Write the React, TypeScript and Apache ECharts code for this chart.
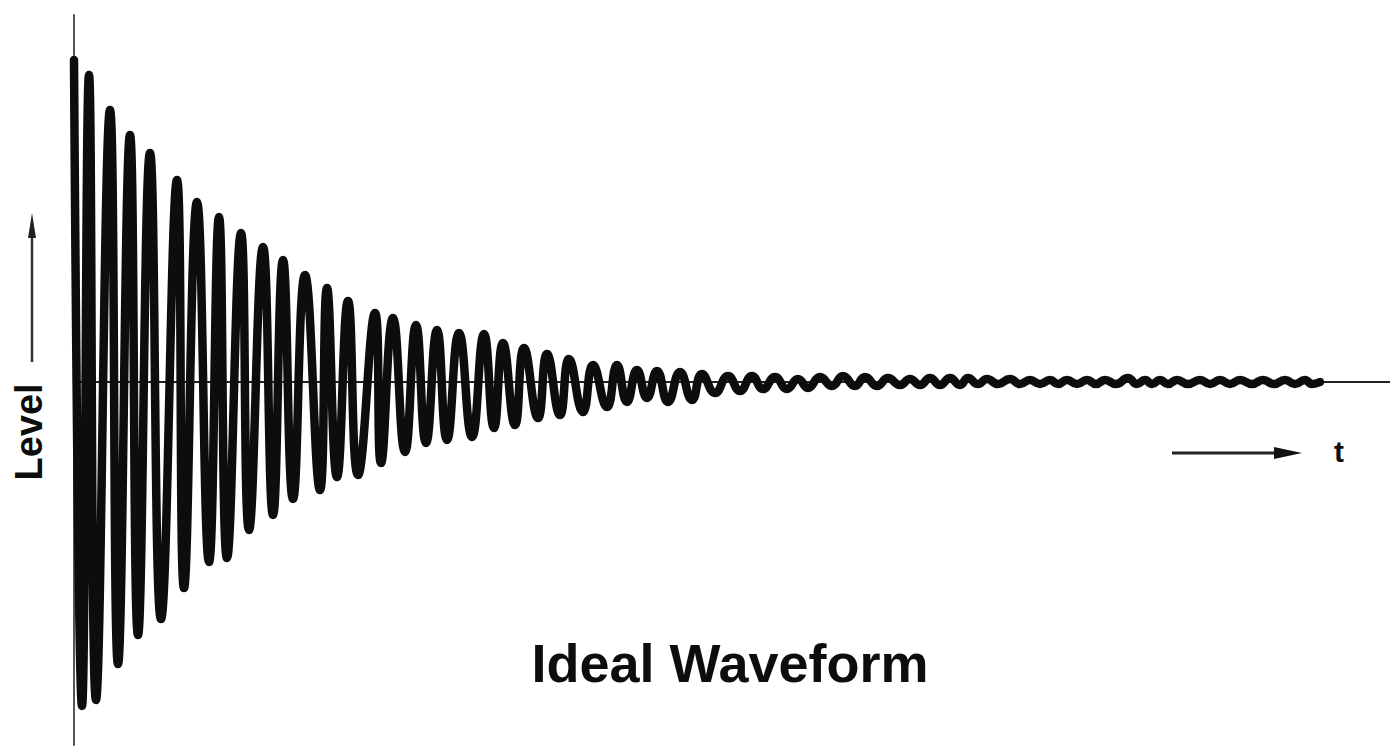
import React, { useEffect, useRef } from "react";
import * as echarts from "echarts";

// Time (sample index) of each turning point of the waveform
const timeSamples: number[] = [
  0, 8, 15, 22, 36, 44, 56, 64, 76, 87, 103, 110, 123, 135, 145, 153, 167, 175,
  189, 199, 209, 219, 231, 246, 253, 263, 274, 284, 301, 307, 319, 331, 342, 352,
  363, 373, 385, 398, 410, 420, 429, 441, 450, 464, 473, 486, 495, 509, 519, 533,
  543, 553, 563, 573, 583, 594, 606, 618, 628, 641, 654, 666, 678, 689, 701, 713,
  724, 734, 746, 758, 769, 781, 791, 803, 814, 826, 836, 846, 856, 866, 876, 886,
  894, 904, 913, 924, 936, 946, 956, 966, 976, 984, 993, 1003, 1013, 1022, 1031,
  1042, 1054, 1063, 1071, 1078, 1086, 1094, 1103, 1114, 1126, 1136, 1146, 1156,
  1166, 1178, 1189, 1200, 1211, 1221, 1231, 1238, 1246,
];

// Level at each turning point (alternating maxima / minima)
const levels: number[] = [
  322, -324, 307, -318, 272, -282, 247, -253, 229, -237, 202, -206, 180, -180,
  165, -176, 149, -148, 135, -133, 122, -117, 107, -108, 94, -95, 81, -93, 69,
  -81, 64, -70, 57, -61, 52, -58, 49, -55, 48, -46, 39, -43, 34, -36, 28, -33,
  23, -30, 17, -25, 17, -20, 12, -16, 11, -20, 10, -18, 8, -11, 6, -9, 6, -7, 5,
  -7, 3, -6, 5, -4, 6, -4, 5, -4, 4, -3, 3, -3, 4, -3, 4, -3, 4, -2, 3, -2, 3,
  -2, 2, -2, 2, -2, 2, -2, 2, -2, 2, -2, 4, -2, 2, -2, 2, -2, 2, -2, 2, -2, 2,
  -2, 2, -2, 2, -2, 2, -2, 2, -2, 0,
];

const TITLE = "Ideal Waveform";
const Y_LABEL = "Level";
const X_LABEL = "t";

const FONT = '"Liberation Sans", Arial, Helvetica, sans-serif';

export default function App() {
  const ref = useRef<HTMLDivElement>(null);

  useEffect(() => {
    if (!ref.current) return;
    const chart = echarts.init(ref.current, undefined, { renderer: "svg" });
    const data = timeSamples.map((t, i) => [t, levels[i]]);
    const ink = "#0d0d0d";

    chart.setOption({
      animation: false,
      backgroundColor: "#ffffff",
      grid: { left: 74, right: 0, top: 15, bottom: 2, containLabel: false },
      xAxis: {
        type: "value",
        min: 0,
        max: 1316,
        axisLine: { show: true, onZero: true, lineStyle: { color: "#222", width: 2 } },
        axisTick: { show: false },
        axisLabel: { show: false },
        splitLine: { show: false },
      },
      yAxis: {
        type: "value",
        min: -363,
        max: 367,
        axisLine: { show: true, onZero: true, lineStyle: { color: "#555", width: 2 } },
        axisTick: { show: false },
        axisLabel: { show: false },
        splitLine: { show: false },
      },
      series: [
        {
          type: "line",
          data,
          smooth: 0.5,
          showSymbol: false,
          symbol: "none",
          lineStyle: { color: ink, width: 8.5, cap: "round", join: "round" },
          silent: true,
        },
      ],
      graphic: [
        {
          type: "text",
          x: 730,
          y: 663,
          style: {
            text: TITLE,
            font: `bold 54px ${FONT}`,
            fill: ink,
            align: "center",
            verticalAlign: "middle",
          },
        },
        {
          type: "text",
          x: 29,
          y: 432,
          rotation: Math.PI / 2,
          style: {
            text: Y_LABEL,
            font: `bold 38px ${FONT}`,
            fill: ink,
            align: "center",
            verticalAlign: "middle",
          },
        },
        {
          type: "line",
          shape: { x1: 32, y1: 362, x2: 32, y2: 230 },
          style: { stroke: "#333", lineWidth: 2.5 },
        },
        {
          type: "polygon",
          shape: { points: [[32, 213], [28, 238], [36, 238]] },
          style: { fill: "#222" },
        },
        {
          type: "line",
          shape: { x1: 1172, y1: 453, x2: 1280, y2: 453 },
          style: { stroke: "#222", lineWidth: 3 },
        },
        {
          type: "polygon",
          shape: { points: [[1302, 453], [1274, 447], [1274, 459]] },
          style: { fill: "#111" },
        },
        {
          type: "text",
          x: 1339,
          y: 451,
          style: {
            text: X_LABEL,
            font: `bold 30px ${FONT}`,
            fill: ink,
            align: "center",
            verticalAlign: "middle",
          },
        },
      ],
    });

    return () => chart.dispose();
  }, []);

  return (
    <div
      ref={ref}
      style={{ position: "absolute", left: 0, top: 0, width: 1390, height: 747 }}
    />
  );
}
